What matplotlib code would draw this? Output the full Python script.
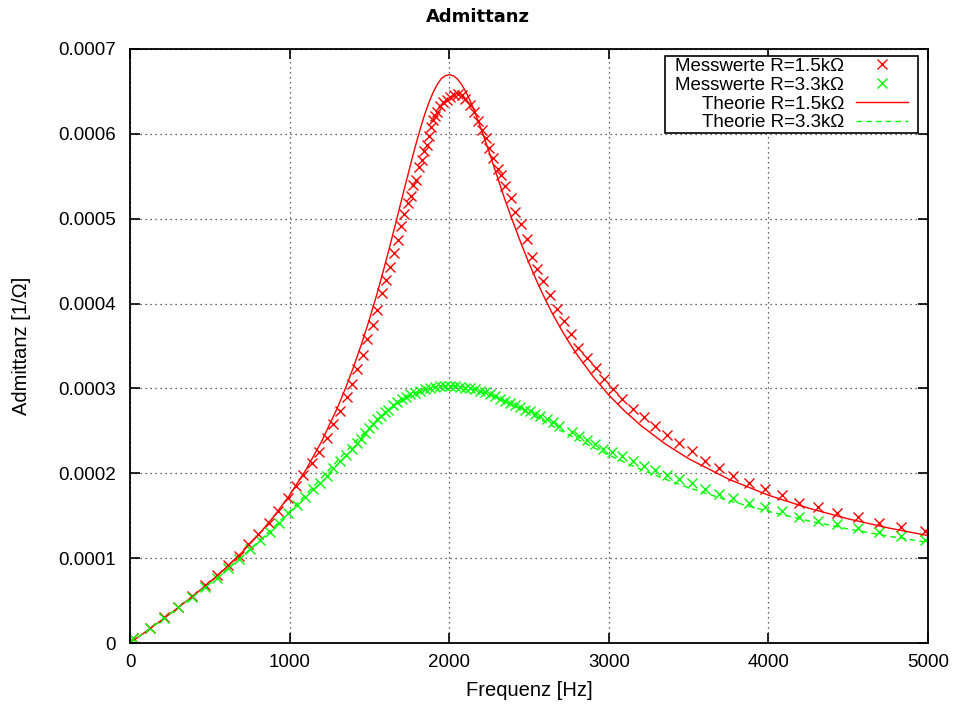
import numpy as np
import matplotlib
matplotlib.use("Agg")
import matplotlib.pyplot as plt
from matplotlib.path import Path
from matplotlib.ticker import FuncFormatter

# measured admittance (units of 1e-4 S) vs frequency in Hz
freq_15 = [21, 125, 215, 303, 387, 470, 543, 616, 685, 741, 804, 873, 929, 988,
           1038, 1086, 1138, 1186, 1232, 1274, 1316, 1357, 1389, 1424, 1462, 1487,
           1525, 1546, 1581, 1604, 1629, 1656, 1677, 1698, 1719, 1740, 1759, 1775,
           1792, 1813, 1828, 1844, 1859, 1873, 1884, 1897, 1911, 1925, 1942, 1963,
           1984, 2005, 2030, 2057, 2078, 2099, 2130, 2157, 2182, 2207, 2231, 2251,
           2272, 2304, 2327, 2350, 2387, 2412, 2448, 2485, 2517, 2552, 2590, 2632,
           2673, 2719, 2761, 2809, 2861, 2918, 2972, 3029, 3085, 3154, 3221, 3290,
           3363, 3440, 3519, 3603, 3693, 3780, 3880, 3979, 4083, 4194, 4308, 4427,
           4559, 4693, 4831, 4981]
adm_15 = [0.06, 0.18, 0.31, 0.43, 0.56, 0.68, 0.80, 0.92, 1.03, 1.17, 1.29, 1.42,
          1.55, 1.71, 1.85, 1.98, 2.12, 2.25, 2.42, 2.58, 2.73, 2.90, 3.05, 3.23,
          3.39, 3.58, 3.75, 3.93, 4.12, 4.28, 4.43, 4.60, 4.75, 4.91, 5.06, 5.19,
          5.27, 5.40, 5.46, 5.61, 5.69, 5.80, 5.87, 5.97, 6.08, 6.16, 6.21, 6.26,
          6.33, 6.37, 6.40, 6.43, 6.46, 6.47, 6.46, 6.41, 6.34, 6.26, 6.15, 6.05,
          5.95, 5.83, 5.71, 5.59, 5.52, 5.39, 5.24, 5.08, 4.94, 4.76, 4.55, 4.41,
          4.27, 4.10, 3.94, 3.79, 3.64, 3.48, 3.36, 3.24, 3.11, 2.99, 2.88, 2.76,
          2.66, 2.56, 2.45, 2.36, 2.26, 2.14, 2.06, 1.97, 1.88, 1.81, 1.74, 1.65,
          1.60, 1.53, 1.48, 1.42, 1.37, 1.32]

freq_33 = [21, 125, 215, 303, 387, 470, 543, 616, 685, 752, 815, 877, 936, 992,
           1044, 1096, 1144, 1190, 1232, 1274, 1316, 1353, 1389, 1420, 1447, 1472,
           1500, 1525, 1550, 1573, 1598, 1619, 1646, 1671, 1702, 1729, 1754, 1786,
           1817, 1848, 1880, 1911, 1942, 1974, 2005, 2036, 2068, 2099, 2130, 2162,
           2193, 2224, 2256, 2287, 2318, 2350, 2381, 2412, 2444, 2475, 2506, 2538,
           2569, 2611, 2652, 2690, 2767, 2815, 2861, 2913, 2966, 3022, 3085, 3154,
           3221, 3290, 3363, 3440, 3519, 3603, 3693, 3780, 3880, 3979, 4083, 4194,
           4308, 4427, 4559, 4693, 4831, 4981]
adm_33 = [0.06, 0.18, 0.30, 0.42, 0.54, 0.66, 0.77, 0.88, 0.99, 1.11, 1.21, 1.31,
          1.41, 1.53, 1.63, 1.72, 1.81, 1.89, 1.97, 2.06, 2.15, 2.22, 2.29, 2.36,
          2.41, 2.48, 2.53, 2.58, 2.64, 2.68, 2.72, 2.75, 2.80, 2.84, 2.87, 2.90,
          2.93, 2.95, 2.97, 2.99, 3.01, 3.02, 3.03, 3.03, 3.03, 3.03, 3.02, 3.01,
          3.00, 2.99, 2.97, 2.96, 2.93, 2.91, 2.88, 2.85, 2.83, 2.80, 2.78, 2.75,
          2.73, 2.70, 2.67, 2.64, 2.60, 2.56, 2.49, 2.44, 2.39, 2.35, 2.29, 2.25,
          2.20, 2.14, 2.09, 2.04, 1.98, 1.93, 1.88, 1.81, 1.76, 1.71, 1.65, 1.60,
          1.55, 1.49, 1.44, 1.40, 1.36, 1.31, 1.26, 1.21]

# theory curves (units of 1e-4 S)
freq_th = [0, 50, 100, 200, 300, 400, 500, 600, 700, 800, 900, 1000, 1100, 1200,
           1300, 1350, 1400, 1450, 1500, 1550, 1600, 1625, 1650, 1675, 1700, 1725,
           1750, 1775, 1800, 1825, 1850, 1875, 1900, 1925, 1950, 1975, 2000, 2025,
           2050, 2075, 2100, 2125, 2150, 2175, 2200, 2225, 2250, 2275, 2300, 2350,
           2400, 2450, 2500, 2550, 2600, 2650, 2700, 2750, 2800, 2900, 3000, 3100,
           3200, 3350, 3500, 3750, 4000, 4250, 4500, 4750, 5000]
th_15 = [0.0, 0.068, 0.136, 0.273, 0.415, 0.562, 0.718, 0.885, 1.066, 1.266,
         1.489, 1.742, 2.034, 2.373, 2.773, 3.001, 3.250, 3.520, 3.814, 4.13,
         4.476, 4.654, 4.84, 5.023, 5.211, 5.398, 5.58, 5.764, 5.937, 6.099,
         6.25, 6.380, 6.492, 6.581, 6.65, 6.685, 6.698, 6.685, 6.65, 6.589,
         6.511, 6.415, 6.31, 6.185, 6.057, 5.922, 5.79, 5.643, 5.503, 5.22,
         4.961, 4.71, 4.476, 4.258, 4.057, 3.87, 3.702, 3.546, 3.401, 3.144,
         2.922, 2.732, 2.565, 2.351, 2.172, 1.932, 1.742, 1.590, 1.463, 1.357,
         1.266]
th_33 = [0.0, 0.068, 0.136, 0.272, 0.412, 0.554, 0.702, 0.856, 1.017, 1.186,
         1.364, 1.551, 1.745, 1.946, 2.149, 2.249, 2.348, 2.445, 2.537, 2.625,
         2.706, 2.744, 2.780, 2.814, 2.846, 2.876, 2.903, 2.927, 2.949, 2.968,
         2.985, 2.999, 3.010, 3.019, 3.026, 3.029, 3.030, 3.029, 3.026, 3.020,
         3.012, 3.003, 2.991, 2.978, 2.963, 2.947, 2.930, 2.911, 2.891, 2.849,
         2.804, 2.756, 2.706, 2.656, 2.605, 2.554, 2.503, 2.453, 2.404, 2.308,
         2.216, 2.129, 2.047, 1.934, 1.830, 1.679, 1.551, 1.440, 1.344, 1.260,
         1.186]

RED = "#ff0000"
GREEN = "#00ff00"
FONT = "Liberation Sans"


def to_siemens(vals):
    return np.array(vals) * 1e-4


def key_box(x0, y0, width, height, mutation_size):
    # legend frame: a little extra room left/right, none top/bottom
    dx = 0.43 * mutation_size
    return Path([(x0 - dx, y0), (x0 + width + dx, y0), (x0 + width + dx, y0 + height),
                 (x0 - dx, y0 + height), (x0 - dx, y0)], closed=True)


fig = plt.figure(figsize=(9.56, 7.06), dpi=100)
ax = fig.add_axes([0.136, 0.0892, 0.8347, 0.8414])

ax.plot(freq_15, to_siemens(adm_15), ls="none", marker="x", ms=6.5, mew=1.0,
        color=RED, label="Messwerte R=1.5kΩ")
ax.plot(freq_33, to_siemens(adm_33), ls="none", marker="x", ms=6.5, mew=1.0,
        color=GREEN, label="Messwerte R=3.3kΩ")
ax.plot(freq_th, to_siemens(th_15), color=RED, lw=1.0, label="Theorie R=1.5kΩ")
ax.plot(freq_th, to_siemens(th_33), color=GREEN, lw=1.0, ls=(0, (4, 3)),
        label="Theorie R=3.3kΩ")

ax.set_xlim(0, 5000)
ax.set_ylim(0, 0.0007)
ax.set_xticks(np.arange(0, 5001, 1000))
ax.set_yticks(np.arange(0, 0.00071, 0.0001))
ax.yaxis.set_major_formatter(FuncFormatter(lambda v, p: "0" if abs(v) < 1e-9 else f"{v:.4f}"))

# gnuplot look: inward ticks mirrored on all sides, dotted grid
ax.tick_params(direction="in", length=7, width=1.2, top=True, right=True,
               labelsize=13.5)
ax.tick_params(axis="x", pad=8)
ax.tick_params(axis="y", pad=10)
for lab in ax.get_xticklabels() + ax.get_yticklabels():
    lab.set_family(FONT)
for sp in ax.spines.values():
    sp.set_linewidth(1.3)
ax.grid(True, color="black", ls=(0, (1, 3)), lw=0.9, alpha=0.8)
ax.set_axisbelow(True)

ax.set_xlabel("Frequenz [Hz]", fontsize=14.5, family=FONT, labelpad=7)
ax.set_ylabel("Admittanz [1/Ω]", fontsize=14.5, family=FONT, labelpad=20)
fig.text(0.5, 1 - 17 / 706, "Admittanz", ha="center", va="center",
         fontsize=13, fontweight="bold")

leg = ax.legend(loc="upper right", markerfirst=False, fancybox=False,
                framealpha=1, edgecolor="black",
                bbox_to_anchor=(1 - 18 / 798, 1 - 7 / 594), borderaxespad=0,
                prop={"family": FONT, "size": 13.5},
                handlelength=2.8, labelspacing=0.09, borderpad=0.1,
                handletextpad=0.6)
leg.get_frame().set_boxstyle(key_box)
leg.get_frame().set_linewidth(1.2)

fig.savefig("out.png", dpi=100)
